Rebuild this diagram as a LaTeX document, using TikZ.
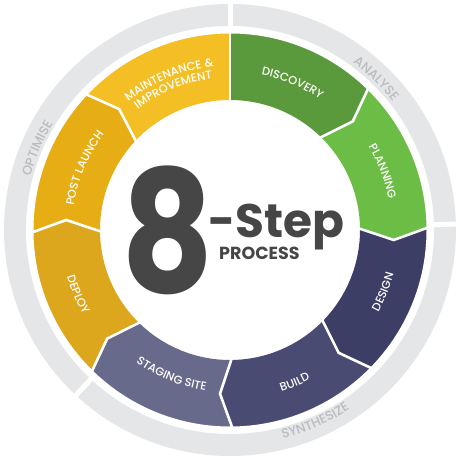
\documentclass[tikz,border=0pt]{standalone}
\usepackage{fontspec}
\setmainfont{Poppins}
\newfontfamily\popmed{Poppins}[UprightFont={* Medium}]
\usetikzlibrary{decorations.text}
\definecolor{ringgray}{HTML}{E5E6E8}
\definecolor{graytxt}{HTML}{BBBCBF}
\definecolor{cDiscovery}{HTML}{5A9A3C}
\definecolor{cPlanning}{HTML}{6CBD45}
\definecolor{cDesign}{HTML}{3D3E65}
\definecolor{cBuild}{HTML}{4A4B73}
\definecolor{cStaging}{HTML}{676A8B}
\definecolor{cDeploy}{HTML}{DCA61D}
\definecolor{cPost}{HTML}{E6AE14}
\definecolor{cMaint}{HTML}{F3BF25}
\definecolor{centertxt}{HTML}{464646}
\newcommand\segshape[5]{%
  \fill[#1] (#2:198pt) arc[start angle=#2, end angle=#3, radius=198pt]
    -- ({#3-#5}:164pt) -- (#3:130pt)
    arc[start angle=#3, end angle=#2, radius=130pt]
    -- ({#2-#4}:164pt) -- cycle;}
\tikzset{
  sep/.style={white, line width=2.6pt, line join=miter},
  cwlabel/.style={decorate, decoration={text along path, text align=center,
     text={|\color{white}\popmed\fontsize{11.5}{13}\selectfont|#1}}},
  graylabel/.style={decorate, decoration={text along path, text align=center,
     text={|\color{graytxt}\popmed\fontsize{13}{15}\selectfont|#1}}},
}
\begin{document}
\begin{tikzpicture}[x=1pt,y=1pt]
\useasboundingbox (-230,-230) rectangle (230,230);
% outer gray ring
\fill[ringgray, even odd rule] (0,0) circle[radius=226pt] (0,0) circle[radius=204pt];
\foreach \a in {90,1.5,227} \draw[white, line width=5pt] (\a:200pt) -- (\a:230pt);
% segments
\segshape{cDiscovery}{90}{46}{0}{4.5}
\segshape{cPlanning}{46}{1}{4.5}{4.5}
\segshape{cDesign}{1}{-44}{4.5}{4.5}
\segshape{cBuild}{-44}{-89}{4.5}{4.5}
\segshape{cStaging}{-89}{-134}{4.5}{4.5}
\segshape{cDeploy}{-134}{-179}{4.5}{4.5}
\segshape{cPost}{-179}{-223}{4.5}{4.5}
\segshape{cMaint}{-223}{-270}{4.5}{0}
% separators
\draw[sep] (90:201pt) -- (90:127pt);
\foreach \b in {46,1,-44,-89,-134,-179,-223}
  \draw[sep] (\b:201pt) -- ({\b-4.5}:164pt) -- (\b:127pt);
\draw[white, line width=3pt] (0,0) circle[radius=198pt];
% segment labels (upper half: clockwise, tops outward)
\path[cwlabel={DISCOVERY}] (107:158.5pt) arc[start angle=107, end angle=27, radius=158.5pt];
\path[cwlabel={PLANNING}] (61:161.5pt) arc[start angle=61, end angle=-19, radius=161.5pt];
\path[cwlabel={POST LAUNCH}] (197:158pt) arc[start angle=197, end angle=117, radius=158pt];
\path[cwlabel={MAINTENANCE {\&}}] (152:164pt) arc[start angle=152, end angle=72, radius=164pt];
\path[cwlabel={IMPROVEMENT}] (152:152pt) arc[start angle=152, end angle=72, radius=152pt];
% lower half: counterclockwise, tops inward
\path[cwlabel={DESIGN}] (-62:169.5pt) arc[start angle=-62, end angle=18, radius=169.5pt];
\path[cwlabel={BUILD}] (-107:169.5pt) arc[start angle=-107, end angle=-27, radius=169.5pt];
\path[cwlabel={STAGING SITE}] (-152:162.5pt) arc[start angle=-152, end angle=-72, radius=162.5pt];
\path[cwlabel={DEPLOY}] (-197:169.5pt) arc[start angle=-197, end angle=-117, radius=169.5pt];
% gray ring labels
\path[graylabel={ANALYSE}] (76:207.5pt) arc[start angle=76, end angle=16, radius=207.5pt];
\path[graylabel={OPTIMISE}] (187:206.5pt) arc[start angle=187, end angle=127, radius=206.5pt];
\path[graylabel={SYNTHESIZE}] (-101:215.5pt) arc[start angle=-101, end angle=-31, radius=215.5pt];
% center text
\node[text=centertxt, font=\bfseries\fontsize{170}{170}\selectfont, inner sep=0pt] (eight) at (-62,-0.5) {\scalebox{0.84}[1]{8}};
\node[text=centertxt, font=\bfseries\fontsize{47}{47}\selectfont, inner sep=0pt, anchor=base west] (step) at (-22,-8) {-Step};
\node[text=centertxt, font=\bfseries\fontsize{17.5}{17.5}\selectfont, inner sep=0pt, anchor=base west] (process) at (-11,-29) {PROCESS};
\end{tikzpicture}
\end{document}
